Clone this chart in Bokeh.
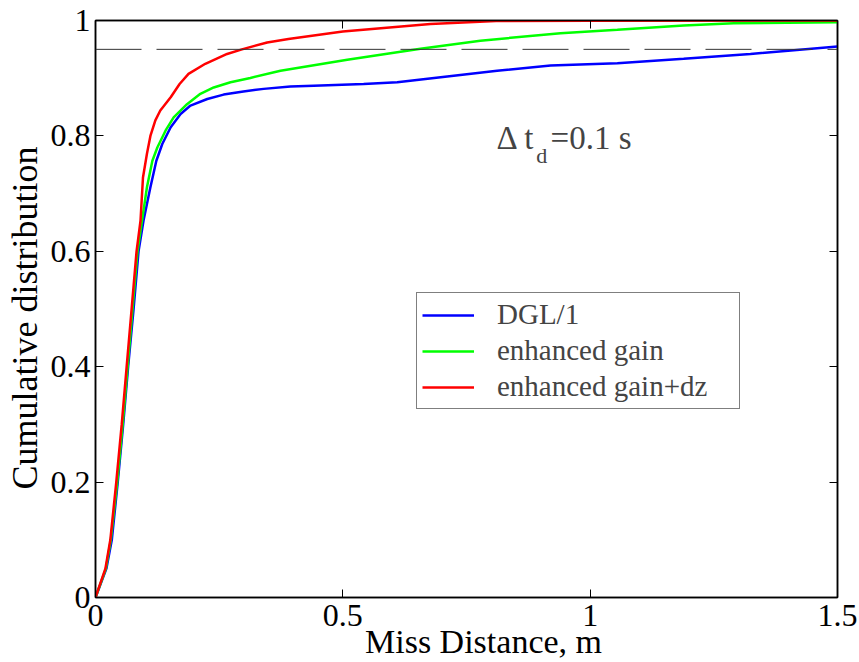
from bokeh.plotting import figure
from bokeh.models import Span, Legend, LegendItem, Label, LinearAxis, Range1d, FixedTicker
from bokeh.embed import file_html
from bokeh.resources import INLINE

# ---------------- data ----------------
dgl_x = [0, 0.022, 0.033, 0.045, 0.056, 0.066, 0.077, 0.087, 0.097, 0.111, 0.123, 0.135,
         0.152, 0.172, 0.192, 0.226, 0.259, 0.299, 0.34, 0.394, 0.441, 0.542, 0.61,
         0.711, 0.812, 0.92, 1.055, 1.189, 1.324, 1.5]
dgl_y = [0, 0.05, 0.1, 0.2, 0.3, 0.4, 0.5, 0.6, 0.653, 0.711, 0.757, 0.786,
         0.815, 0.838, 0.8526, 0.864, 0.8716, 0.877, 0.8815, 0.8855, 0.887, 0.890, 0.893,
         0.903, 0.913, 0.922, 0.926, 0.9335, 0.942, 0.955]

gain_x = [0, 0.021, 0.031, 0.044, 0.055, 0.065, 0.075, 0.085, 0.094, 0.104, 0.115, 0.125,
          0.1415, 0.158, 0.185, 0.212, 0.239, 0.273, 0.313, 0.374, 0.509, 0.657, 0.778,
          0.94, 1.055, 1.189, 1.29, 1.5]
gain_y = [0, 0.05, 0.1, 0.2, 0.3, 0.4, 0.5, 0.6, 0.653, 0.711, 0.757, 0.780,
          0.809, 0.832, 0.855, 0.873, 0.884, 0.893, 0.9005, 0.913, 0.932, 0.951, 0.965,
          0.978, 0.984, 0.9913, 0.9953, 0.997]

dz_x = [0, 0.020, 0.030, 0.042, 0.053, 0.063, 0.073, 0.083, 0.091, 0.096, 0.104, 0.111,
        0.121, 0.131, 0.152, 0.170, 0.188, 0.222, 0.266, 0.296, 0.347, 0.39, 0.50,
        0.677, 0.81, 1.0, 1.38, 1.5]
dz_y = [0, 0.05, 0.1, 0.2, 0.3, 0.4, 0.5, 0.6, 0.653, 0.728, 0.769, 0.80,
        0.827, 0.844, 0.867, 0.890, 0.9075, 0.925, 0.942, 0.950, 0.962, 0.968, 0.981,
        0.994, 0.999, 0.9995, 1.0, 1.0]

series_names = ["DGL/1", "enhanced gain", "enhanced gain+dz"]
series_colors = ["#0000ff", "#00ff00", "#ff0000"]

level_95 = 0.95
x_ticks = [0, 0.5, 1, 1.5]
x_tick_labels = ["0", "0.5", "1", "1.5"]
y_ticks = [0, 0.2, 0.4, 0.6, 0.8, 1.0]
y_tick_labels = ["0", "0.2", "0.4", "0.6", "0.8", "1"]
x_title = "Miss Distance, m"
y_title = "Cumulative distribution"

FONT = "Liberation Serif"
NBSP = "\u00a0"

p = figure(width=859, height=662, x_range=Range1d(0, 1.5), y_range=Range1d(0, 1),
           output_backend="svg", toolbar_location=None,
           min_border_left=95, min_border_right=22, min_border_top=20, min_border_bottom=65)
p.grid.visible = False
p.outline_line_color = "black"
p.outline_line_width = 1.5
p.background_fill_color = "white"
p.border_fill_color = "white"

def style_axis(ax, ticks, labels, show_labels=True, standoff=5):
    ax.ticker = FixedTicker(ticks=ticks)
    ax.major_tick_in = 8
    ax.major_tick_out = 0
    ax.minor_tick_line_color = None
    ax.axis_line_color = "black"
    ax.axis_line_width = 1.5
    ax.major_tick_line_color = "black"
    ax.major_tick_line_width = 1
    ax.major_label_text_font = FONT
    ax.major_label_text_color = "black"
    if show_labels:
        ax.major_label_overrides = {t: l for t, l in zip(ticks, labels)}
        ax.major_label_text_font_size = "32px"
        ax.major_label_standoff = standoff
    else:
        ax.major_label_overrides = {t: "" for t in ticks}
        ax.major_label_text_font_size = "1px"
        ax.major_label_standoff = 0

style_axis(p.xaxis[0], x_ticks, x_tick_labels, standoff=7)
style_axis(p.yaxis[0], y_ticks, y_tick_labels, standoff=5)

# titles: leading / trailing non-breaking spaces reproduce the reference's off-centre placement
p.xaxis.axis_label = NBSP * 4 + x_title
p.yaxis.axis_label = y_title + NBSP * 2
for ax, size in ((p.xaxis[0], "34px"), (p.yaxis[0], "36px")):
    ax.axis_label_text_font = FONT
    ax.axis_label_text_font_size = size
    ax.axis_label_text_font_style = "normal"
    ax.axis_label_text_color = "black"
p.xaxis.axis_label_standoff = -6
p.yaxis.axis_label_standoff = 3

top_ax = LinearAxis()
style_axis(top_ax, x_ticks, x_tick_labels, show_labels=False)
p.add_layout(top_ax, "above")
right_ax = LinearAxis()
style_axis(right_ax, y_ticks, y_tick_labels, show_labels=False)
p.add_layout(right_ax, "right")

p.add_layout(Span(location=level_95, dimension="width", line_color="#333333",
                  line_width=1, line_dash="46 15"))

renderers = []
for xs, ys, c in [(dgl_x, dgl_y, series_colors[0]),
                  (gain_x, gain_y, series_colors[1]),
                  (dz_x, dz_y, series_colors[2])]:
    renderers.append(p.line(xs, ys, line_color=c, line_width=2.5))

legend = Legend(items=[LegendItem(label=n, renderers=[r]) for n, r in zip(series_names, renderers)],
                location=(321, 188), orientation="vertical",
                border_line_color="black", border_line_width=1,
                background_fill_color="white", background_fill_alpha=1,
                label_text_font=FONT, label_text_font_size="29px",
                glyph_width=52, glyph_height=22, label_height=22, label_width=237,
                spacing=3, padding=5, label_standoff=23, margin=0)
p.add_layout(legend)

p.add_layout(Label(x=0.8106, y=0.796, text="Δ t", text_font=FONT, text_font_size="33px",
                   text_baseline="alphabetic"))
p.add_layout(Label(x=0.891, y=0.766, text="d", text_font=FONT, text_font_size="22px",
                   text_baseline="alphabetic"))
p.add_layout(Label(x=0.92, y=0.796, text="=0.1 s", text_font=FONT, text_font_size="33px",
                   text_baseline="alphabetic"))

open("out.html", "w").write(file_html(p, INLINE))
